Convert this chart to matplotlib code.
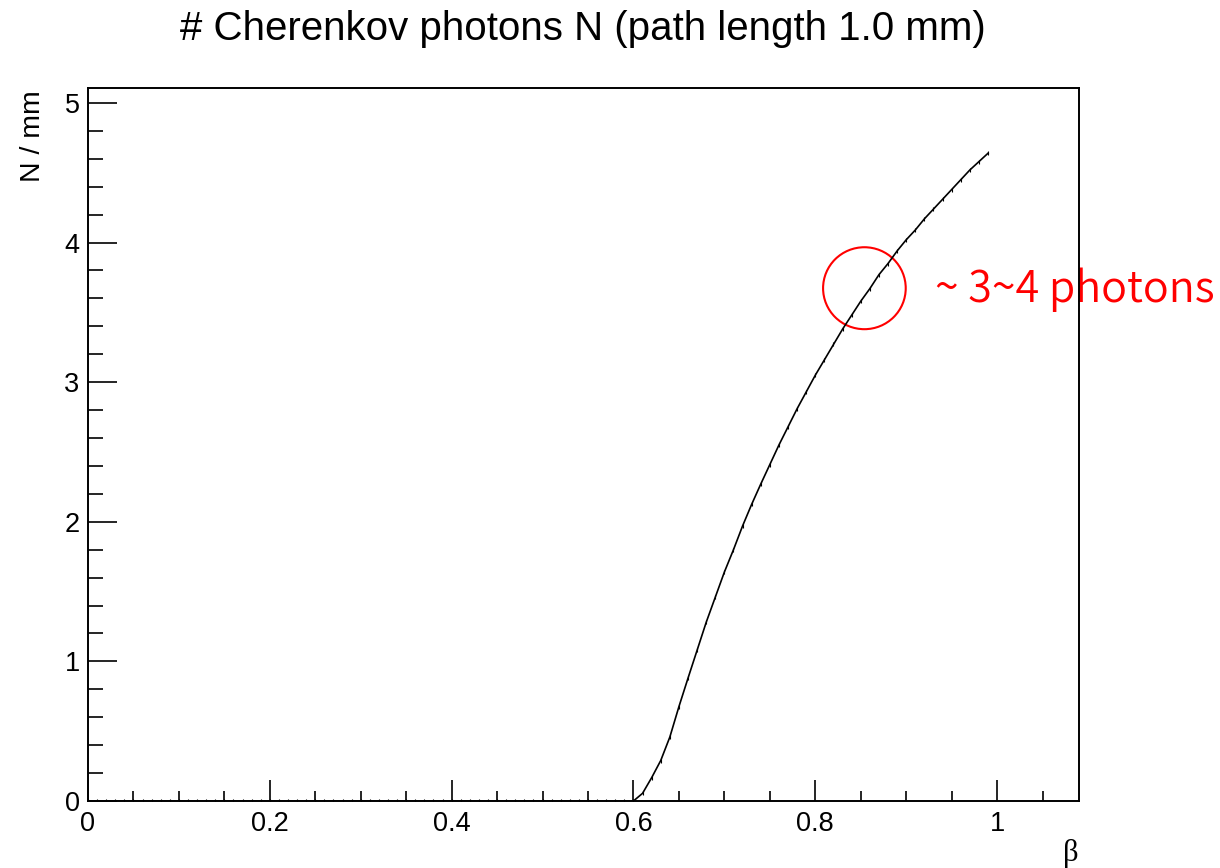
import numpy as np
import matplotlib.pyplot as plt
from matplotlib.patches import Ellipse
from matplotlib.ticker import MultipleLocator

# beta grid of the histogram (bins of 0.01) and photons per mm
beta = np.round(np.arange(0, 100) * 0.01, 2)
n_below = [0.0] * 60
n_above = [0.0, 0.055, 0.167, 0.29, 0.458, 0.676, 0.88, 1.08, 1.28, 1.46,
           1.64, 1.80, 1.97, 2.125, 2.27, 2.41, 2.55, 2.68, 2.81, 2.93,
           3.05, 3.16, 3.27, 3.38, 3.48, 3.58, 3.67, 3.77, 3.85, 3.94,
           4.02, 4.09, 4.17, 4.24, 4.31, 4.38, 4.45, 4.52, 4.58, 4.64]
nphot = np.array(n_below + n_above)

title = "# Cherenkov photons N (path length 1.0 mm)"
note = "~ 3~4 photons"
ring_center = (0.854, 3.673)

plt.rcParams['font.family'] = ['Liberation Sans', 'DejaVu Sans']

fig = plt.figure(figsize=(12.2, 8.68), dpi=100)
ax = fig.add_axes([0.0721, 0.0772, 0.8844 - 0.0721, 0.8986 - 0.0772])

ax.plot(beta, nphot, color='black', lw=1.2, marker='|', ms=3, mew=0.8)

ax.add_patch(Ellipse(ring_center, 0.0909, 0.587, fill=False, ec='red', lw=1.5))
ax.text(0.932, 3.577, note, color='red', fontsize=31, fontweight=350,
        family=['Noto Sans CJK JP', 'DejaVu Sans'],
        va='baseline', ha='left', clip_on=False, zorder=1)

ax.set_xlim(0, 1.09)
ax.set_ylim(0, 5.107)
ax.xaxis.set_major_locator(MultipleLocator(0.2))
ax.xaxis.set_minor_locator(MultipleLocator(0.05))
ax.yaxis.set_major_locator(MultipleLocator(1))
ax.yaxis.set_minor_locator(MultipleLocator(0.2))
ax.xaxis.set_major_formatter(plt.FuncFormatter(lambda v, p: f"{v:g}"))
ax.tick_params(axis='both', which='both', direction='in', labelsize=19.5, width=1.2,
               top=False, right=False)
ax.tick_params(axis='x', which='major', length=15, pad=7)
ax.tick_params(axis='x', which='minor', length=7.2)
ax.tick_params(axis='y', which='major', length=21, pad=6)
ax.tick_params(axis='y', which='minor', length=10.8)
for s in ax.spines.values():
    s.set_linewidth(1.4)
    s.set_zorder(5)

fig.text(583 / 1220, 1 - 40 / 868, title, fontsize=29, ha='center', va='baseline')
fig.text(33 / 1220, 1 - 90 / 868, "N / mm", fontsize=20.5, rotation=90, ha='center', va='top')
fig.text(1079 / 1220, 1 - 861 / 868, "\u03b2", fontsize=22, family=['Liberation Serif', 'DejaVu Serif'],
         ha='right', va='baseline')

fig.savefig('out.png', dpi=100)
